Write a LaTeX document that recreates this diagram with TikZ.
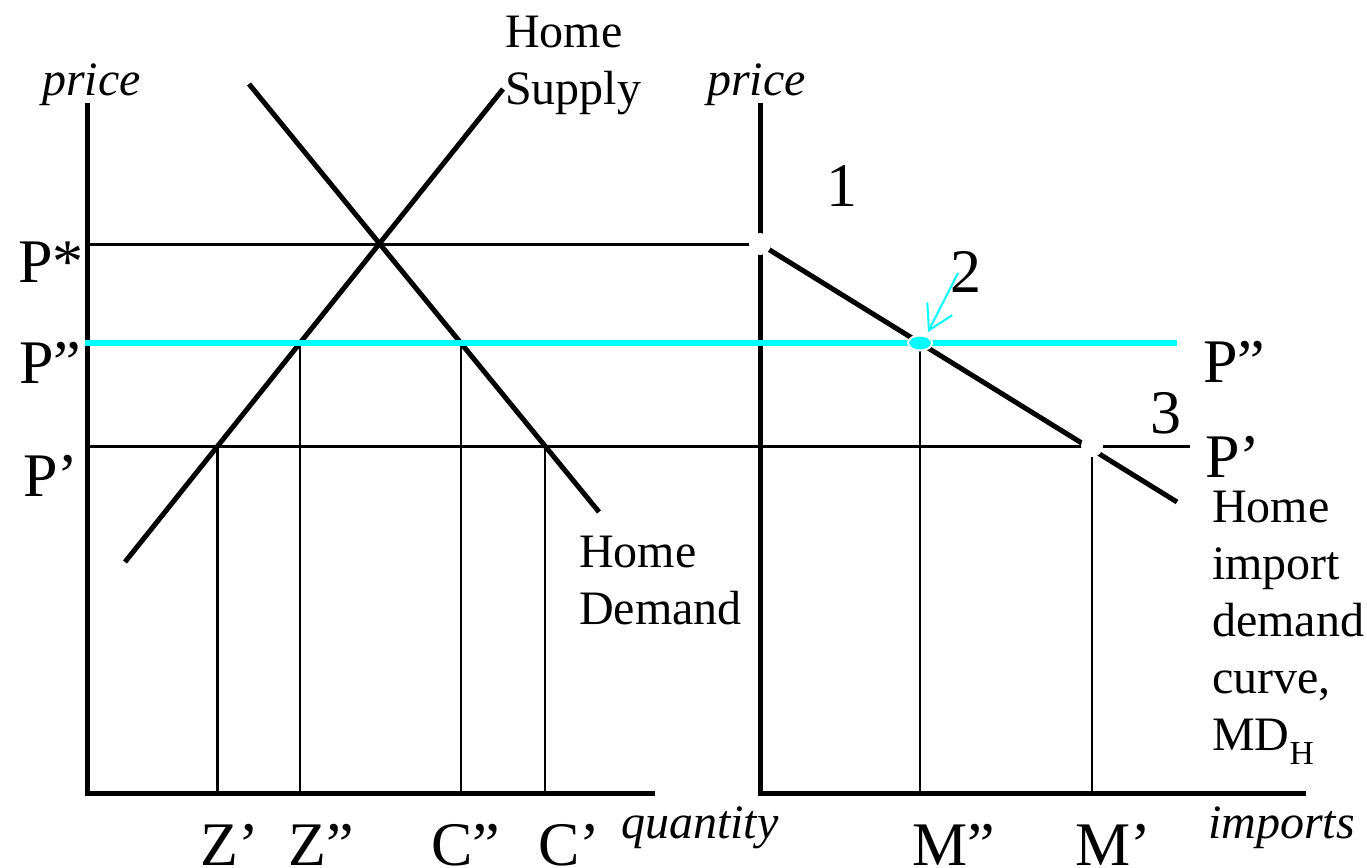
\documentclass[tikz,border=0pt]{standalone}
\usepackage{fontspec}
\setmainfont{Liberation Serif}
\usetikzlibrary{arrows.meta,shapes.geometric}
\definecolor{aqua}{RGB}{0,255,255}
\begin{document}
\begin{tikzpicture}[x=1pt,y=-1pt,
  axis/.style={line width=5pt},
  curveline/.style={line width=5pt},
  guide/.style={line width=2.5pt},
  pline/.style={line width=3pt},
  worldline/.style={line width=5.5pt, draw=aqua},
  big/.style={inner sep=0pt, anchor=base west, font=\fontsize{62}{70}\selectfont},
  small/.style={inner sep=0pt, anchor=base west, font=\fontsize{48}{57}\selectfont},
  ital/.style={inner sep=0pt, anchor=base west, font=\fontsize{48}{57}\selectfont\itshape},
  block/.style={inner sep=0pt, anchor=north west, align=left, font=\fontsize{48}{57}\selectfont},
  gapdot/.style={circle, fill=white, inner sep=0pt, minimum size=22pt},
]
\useasboundingbox (0,0) rectangle (1367,867);
% axes
\coordinate (O1) at (87,793);
\coordinate (Y1) at (87,103);
\coordinate (X1) at (655,793);
\coordinate (O2) at (760,793);
\coordinate (Y2) at (760,103);
\coordinate (X2) at (1306,793);
% price levels
\coordinate (PsL) at (87,244);
\coordinate (K1) at (760,244);
\coordinate (PdL) at (85,343);
\coordinate (PdR) at (1177,343);
\coordinate (PpL) at (90,446);
\coordinate (PpR) at (1190,446);
% curves
\coordinate (S0) at (125,562);
\coordinate (S1) at (503,89);
\coordinate (D0) at (249,84);
\coordinate (D1) at (599,512);
\coordinate (M1) at (1177,502);
% intersections
\coordinate (Zp) at (intersection of S0--S1 and PpL--PpR);
\coordinate (Zd) at (intersection of S0--S1 and PdL--PdR);
\coordinate (Cd) at (intersection of D0--D1 and PdL--PdR);
\coordinate (Cp) at (intersection of D0--D1 and PpL--PpR);
\coordinate (Md) at (intersection of K1--M1 and PdL--PdR);
\coordinate (K3) at (1092,446);
\coordinate (A2) at (958,273);
\coordinate (Tip) at (928,332);

% price lines
\draw[pline] (PsL) -- (K1);
\draw[pline] (PpL) -- (PpR);
% drop lines
\draw[guide] (Zp) -- (Zp |- O1);
\draw[guide] (Zd) -- (Zd |- O1);
\draw[guide] (Cd) -- (Cd |- O1);
\draw[guide] (Cp) -- (Cp |- O1);
\draw[guide] (Md) -- (Md |- O2);
\draw[guide] (K3) -- (K3 |- O2);
% axes
\draw[axis] (Y1) -- (O1) -- (X1);
\draw[axis] (Y2) -- (O2) -- (X2);
% supply, demand, import demand
\draw[curveline] (S0) -- (S1);
\draw[curveline] (D0) -- (D1);
\draw[curveline] (K1) -- (M1);
% world price line
\draw[worldline] (PdL) -- (PdR);
% gaps at kinks
\node[gapdot] (g1) at (K1) {};
\node[gapdot] (g3) at (K3) {};
% point 2
\node[ellipse, draw=white, line width=2pt, fill=aqua, minimum width=24pt, minimum height=15pt, inner sep=0pt] (dot2) at (Md) {};
\draw[aqua, line width=2pt, -{Straight Barb[length=24pt,width=28pt]}] (A2) -- (Tip);

% labels
\node[ital] (lprice) at (42,95) {price};
\node[ital] (rprice) at (707,95) {price};
\node[big] (lPs) at (18,282) {P*};
\node[big] (lPd) at (19,383) {P”};
\node[big] (lPp) at (23,496) {P’};
\node[block] (supplylab) at (505,16) {Home\\Supply};
\node[block] (demandlab) at (579,536) {Home\\Demand};
\node[block] (mdlab) at (1212,491) {Home\\import\\demand\\curve,\\MD\textsubscript{H}};
\node[big] (n1) at (826,206) {1};
\node[big] (n2) at (950,292) {2};
\node[big] (n3) at (1150,433) {3};
\node[big] (rPd) at (1203,382) {P”};
\node[big] (rPp) at (1205,477) {P’};
\node[big] (lZp) at (200,865) {Z’};
\node[big] (lZd) at (288,865) {Z”};
\node[big] (lCd) at (431,865) {C”};
\node[big] (lCp) at (538,865) {C’};
\node[ital] (lq) at (621,838) {quantity};
\node[big] (lMd) at (912,865) {M”};
\node[big] (lMp) at (1075,865) {M’};
\node[ital] (limp) at (1208,838) {imports};
\end{tikzpicture}
\end{document}
